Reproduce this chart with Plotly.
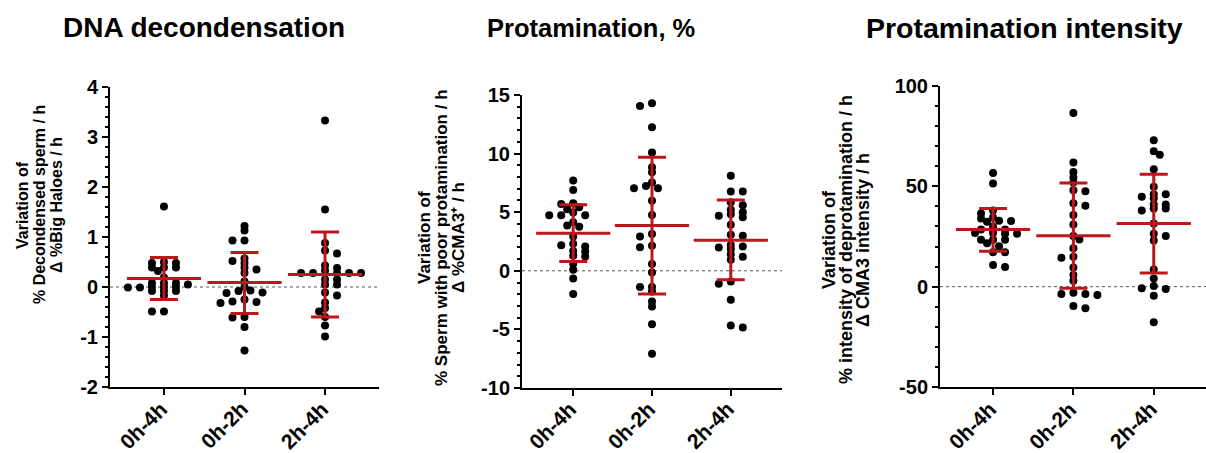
import plotly.graph_objects as go
import numpy as np

# ---------------- data ----------------
categories = ["0h-4h", "0h-2h", "2h-4h"]

titles = ["DNA decondensation", "Protamination, %", "Protamination intensity"]
ytitle_lines = [
    ["Variation of", "% Decondensed sperm / h", "Δ %Big Haloes / h"],
    ["Variation of", "% Sperm with poor protamination / h", "Δ %CMA3⁺ / h"],
    ["Variation of", "% intensity of deprotamination / h", "Δ CMA3 intensity / h"],
]

# Panel 1: DNA decondensation
dna_0h4h = [1.61, 0.48, 0.48, 0.50, 0.39, 0.39, 0.39, 0.32, 0.19, 0.08, 0.08, 0.08,
            0.05, 0.0, -0.01, 0.0, -0.01, 0.0, -0.08, -0.08, -0.08, -0.17, -0.49, -0.49]
dna_0h2h = [1.22, 1.13, 0.93, 0.93, 0.57, 0.48, 0.52, 0.35, 0.39, 0.28, 0.11, 0.0,
            -0.07, -0.08, -0.12, -0.11, -0.25, -0.29, -0.32, -0.30, -0.61, -0.60, -0.80, -1.27]
dna_2h4h = [3.33, 1.55, 0.88, 0.67, 0.28, 0.05, -0.17, -0.42, -0.60, -0.77, -0.99,
            0.73, 0.43, 0.28, 0.15, 0.05, 0.28, 0.15, -0.11, -0.31, -0.49,
            0.28, 0.28, 0.33, 0.38]
dna_mean = [0.17, 0.09, 0.25]
dna_upper = [0.59, 0.69, 1.10]
dna_lower = [-0.25, -0.53, -0.60]
dna_ticks = [-2, -1, 0, 1, 2, 3, 4]
dna_ticklabels = ["-2", "-1", "0", "1", "2", "3", "4"]

# Panel 2: Protamination, %
prot_0h4h = [7.7, 6.9, 5.77, 5.7, 5.43, 5.26, 4.97, 4.74, 4.74, 4.74, 4.15, 3.86,
             3.75, 2.93, 2.3, 2.19, 2.07, 1.7, 1.65, 1.28, 1.22, 0.6, 0.09, -0.65, -1.99]
prot_0h2h = [14.29, 14.06, 12.24, 10.1, 8.84, 8.4, 7.53, 7.24, 7.05, 7.05, 5.97, 4.77,
             3.15, 2.93, 2.13, 2.02, 0.57, -0.14, -1.39, -1.39, -1.76, -2.61, -3.04,
             -4.55, -7.07]
prot_2h4h = [8.1, 6.76, 6.76, 5.85, 5.6, 5.2, 5.0, 4.83, 4.7, 4.57, 3.92, 3.07, 2.98,
             2.2, 2.07, 1.99, 1.85, 1.42, 1.19, 0.94, -0.91, -1.1, -2.47, -4.66, -4.83]
prot_mean = [3.21, 3.86, 2.61]
prot_upper = [5.63, 9.69, 6.05]
prot_lower = [0.80, -1.99, -0.77]
prot_ticks = [-10, -5, 0, 5, 10, 15]
prot_ticklabels = ["-10", "-5", "0", "5", "10", "15"]

# Panel 3: Protamination intensity
int_0h4h = [56.7, 51.4, 38.0, 36.5, 34.5, 34.0, 32.8, 32.3, 32.7, 29.9, 28.5, 28.5,
            26.7, 26.7, 26.4, 26.4, 23.4, 23.4, 23.4, 21.6, 20.1, 17.1, 17.1, 10.8, 9.8]
int_0h2h = [86.6, 61.9, 57.2, 54.4, 51.9, 48.1, 47.6, 41.6, 40.3, 35.7, 31.0, 25.2,
            23.5, 19.1, 14.4, 14.9, 9.6, 5.8, 3.0, -3.6, -3.0, -4.1, -3.6, -10.8, -9.6]
int_2h4h = [73.0, 67.5, 65.8, 58.5, 49.8, 46.1, 46.1, 41.0, 41.0, 44.8, 44.0, 39.0,
            39.0, 38.0, 31.5, 25.2, 26.4, 23.0, 8.6, 4.1, -0.8, -1.2, 0.3, -4.5, -17.7]
int_mean = [28.5, 25.4, 31.5]
int_upper = [39.0, 51.7, 56.0]
int_lower = [17.7, -0.8, 6.8]
int_ticks = [-50, 0, 50, 100]
int_ticklabels = ["-50", "0", "50", "100"]

# ---------------- layout constants ----------------
W, H = 1206, 453
RED = "rgb(188,24,28)"
FONT = "Liberation Sans, Arial, Helvetica, sans-serif"

panels = [
    dict(groups=[dna_0h4h, dna_0h2h, dna_2h4h], mean=dna_mean, up=dna_upper, lo=dna_lower,
         ticks=dna_ticks, labels=dna_ticklabels, yr=[-2, 4], minor=0.2,
         xpx=[110, 379], ypx=[87, 387], xr=[-0.67, 2.67],
         title_x=204, title_size=28, ytl_x=[22, 39, 56], ytl_y=205, ytl_size=16),
    dict(groups=[prot_0h4h, prot_0h2h, prot_2h4h], mean=prot_mean, up=prot_upper, lo=prot_lower,
         ticks=prot_ticks, labels=prot_ticklabels, yr=[-10, 15], minor=1,
         xpx=[522, 782], ypx=[95, 388], xr=[-0.65, 2.65],
         title_x=591, title_size=25.5, ytl_x=[424, 441, 458], ytl_y=238, ytl_size=17),
    dict(groups=[int_0h4h, int_0h2h, int_2h4h], mean=int_mean, up=int_upper, lo=int_lower,
         ticks=int_ticks, labels=int_ticklabels, yr=[-50, 100], minor=10,
         xpx=[940, 1206], ypx=[86, 387], xr=[-0.66, 2.65],
         title_x=1024, title_size=28.5, ytl_x=[829, 846, 863], ytl_y=240, ytl_size=18),
]


def beeswarm(vals, ppu_y, ppu_x, step=6.0, cx=10.5, cy=4.0):
    vals = np.asarray(vals, dtype=float)
    order = np.argsort(-vals)
    cands = [0.0]
    for k in range(1, 12):
        cands += [k * step, -k * step]
    placed = []
    off = np.zeros(len(vals))
    for n, i in enumerate(order):
        y = vals[i] * ppu_y
        cs = cands if n % 2 == 0 else [-c for c in cands]
        chosen = cs[-1]
        for c in cs:
            if all(((c - px) / cx) ** 2 + ((y - py) / cy) ** 2 >= 1 for px, py in placed):
                chosen = c
                break
        placed.append((chosen, y))
        off[i] = chosen / ppu_x
    return off


fig = go.Figure()
annotations = []
shapes = []

for p_i, p in enumerate(panels):
    idx = "" if p_i == 0 else str(p_i + 1)
    xa, ya = "x" + idx, "y" + idx
    ppu_y = (p["ypx"][1] - p["ypx"][0]) / (p["yr"][1] - p["yr"][0])
    ppu_x = (p["xpx"][1] - p["xpx"][0]) / (p["xr"][1] - p["xr"][0])

    for g_i, vals in enumerate(p["groups"]):
        off = beeswarm(vals, ppu_y, ppu_x)
        fig.add_trace(go.Scatter(
            x=g_i + off, y=vals, mode="markers", xaxis=xa, yaxis=ya,
            marker=dict(color="black", size=8), showlegend=False, hoverinfo="y"))

    mean = np.array(p["mean"])
    fig.add_trace(go.Scatter(
        x=[0, 1, 2], y=mean, mode="markers", xaxis=xa, yaxis=ya, showlegend=False,
        marker=dict(symbol="line-ew", size=53, color=RED, line=dict(color=RED, width=3)),
        error_y=dict(type="data", symmetric=False, array=np.array(p["up"]) - mean,
                     arrayminus=mean - np.array(p["lo"]), color=RED, thickness=3, width=14)))

    shapes.append(dict(type="line", xref=xa + " domain", yref=ya, x0=0, x1=1, y0=0, y1=0,
                       line=dict(color="#555555", width=1, dash="dot"), layer="below"))

    xdom = [p["xpx"][0] / W, p["xpx"][1] / W]
    ydom = [1 - p["ypx"][1] / H, 1 - p["ypx"][0] / H]
    axis_common = dict(showline=True, linecolor="black", linewidth=2, showgrid=False,
                       zeroline=False, ticks="outside", tickcolor="black", tickwidth=2,
                       ticklen=6, automargin=False)
    fig.update_layout(**{
        "xaxis" + idx: dict(domain=xdom, range=p["xr"], anchor=ya, tickvals=[0, 1, 2],
                            showticklabels=False, **axis_common),
        "yaxis" + idx: dict(domain=ydom, range=p["yr"], anchor=xa, tickvals=p["ticks"],
                            ticktext=p["labels"],
                            tickfont=dict(family=FONT, size=20, color="black", weight="bold"),
                            minor=dict(dtick=p["minor"], ticks="outside", ticklen=3,
                                       tickwidth=1.5, tickcolor="black"),
                            **axis_common),
    })

    # rotated category labels, placed below each category tick
    for c_i, cat in enumerate(categories):
        annotations.append(dict(text=cat, x=c_i, y=1 - 425 / H, xref=xa, yref="paper",
                                xshift=-21, showarrow=False, textangle=-45,
                                xanchor="center", yanchor="middle",
                                font=dict(family=FONT, size=21, color="black", weight="bold")))

    annotations.append(dict(text=titles[p_i], x=p["title_x"] / W, y=1 - 28 / H,
                            xref="paper", yref="paper", showarrow=False,
                            xanchor="center", yanchor="middle",
                            font=dict(family=FONT, size=p["title_size"], color="black",
                                      weight="bold")))
    for l_i, line in enumerate(ytitle_lines[p_i]):
        annotations.append(dict(text=line, x=p["ytl_x"][l_i] / W, y=1 - p["ytl_y"] / H,
                                xref="paper", yref="paper", showarrow=False, textangle=-90,
                                xanchor="center", yanchor="middle",
                                font=dict(family=FONT, size=p["ytl_size"], color="black",
                                          weight="bold")))

fig.update_layout(width=W, height=H, margin=dict(l=0, r=0, t=0, b=0),
                  paper_bgcolor="white", plot_bgcolor="white",
                  annotations=annotations, shapes=shapes, showlegend=False)

fig.write_html("out.html")
